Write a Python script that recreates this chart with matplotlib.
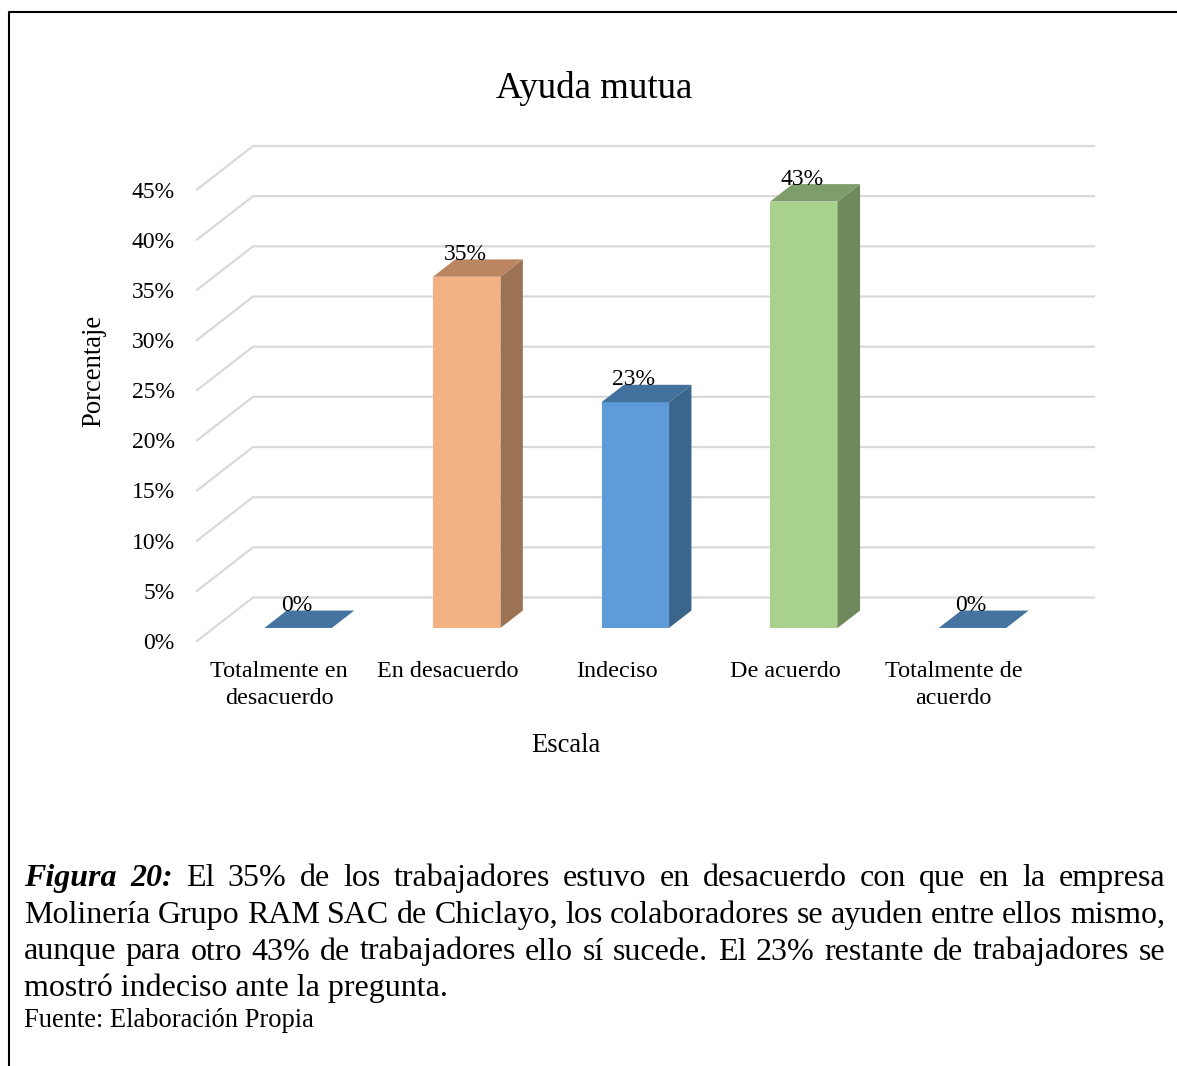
import matplotlib
matplotlib.use("Agg")
import matplotlib.pyplot as plt
from matplotlib.lines import Line2D
from matplotlib.patches import Polygon

plt.rcParams['font.family'] = ['Liberation Serif', 'DejaVu Serif']

categories = ["Totalmente en\ndesacuerdo", "En desacuerdo", "Indeciso", "De acuerdo", "Totalmente de\nacuerdo"]
values = [0, 35, 22.5, 42.5, 0]
value_labels = ["0%", "35%", "23%", "43%", "0%"]
tick_values = [0, 5, 10, 15, 20, 25, 30, 35, 40, 45]
tick_labels = ["0%", "5%", "10%", "15%", "20%", "25%", "30%", "35%", "40%", "45%"]
front_colors = ["#4674A0", "#F4B183", "#5E9BD8", "#A9D18E", "#4674A0"]
top_colors = ["#4674A0", "#BC8562", "#41719C", "#7F9D6B", "#4674A0"]
side_colors = ["#4674A0", "#9C7352", "#3A668C", "#6E8A5C", "#4674A0"]

title = "Ayuda mutua"
xlabel = "Escala"
ylabel = "Porcentaje"
caption_lines = [
    "El 35% de los trabajadores estuvo en desacuerdo con que en la empresa",
    "Molinería Grupo RAM SAC de Chiclayo, los colaboradores se ayuden entre ellos mismo,",
    "aunque para otro 43% de trabajadores ello sí sucede. El 23% restante de trabajadores se",
]
caption_lead = ["Figura", "20:"]
caption_last = "mostró indeciso ante la pregunta."
source = "Fuente: Elaboración Propia"

W, H = 1177, 1066
fig = plt.figure(figsize=(W / 100, H / 100), dpi=100, facecolor="white")


def fx(px):
    return px / W


def fy(py):
    return 1 - py / H


# frame
fig.add_artist(Line2D([fx(8.5), fx(8.5), 1], [0, fy(11.5), fy(11.5)], color="black", lw=1.5))

ax_left, ax_right, ax_bottom, ax_top = 197, 1040, 641, 189.5
ax = fig.add_axes([fx(ax_left), fy(ax_bottom), (ax_right - ax_left) / W, (ax_bottom - ax_top) / H])
ax.set_xlim(-0.5, 4.5)
ax.set_ylim(0, 45)
ax.patch.set_alpha(0)
for s in ax.spines.values():
    s.set_visible(False)

px_x = (ax_right - ax_left) / 5
px_y = (ax_bottom - ax_top) / 45
wall_dx = 56 / px_x
wall_dy = 43.5 / px_y
d_front, d_back = 0.3, 0.7
bar_w = 67.5 / px_x

# gridlines on floor-edge + back wall
x_end = 4.5 + wall_dx - 2 / px_x
for v in tick_values:
    ax.plot([-0.5, -0.5 + wall_dx, x_end], [v, v + wall_dy, v + wall_dy],
            color="#D9D9D9", lw=1.6, clip_on=False, zorder=1, solid_joinstyle="miter")

# 3D bars
for i, v in enumerate(values):
    x0 = i - bar_w / 2 + d_front * wall_dx
    y0 = d_front * wall_dy
    ddx = (d_back - d_front) * wall_dx
    ddy = (d_back - d_front) * wall_dy
    ax.bar(x0, v, bottom=y0, width=bar_w, align="edge", color=front_colors[i], lw=0, zorder=3, clip_on=False)
    ax.add_patch(Polygon([(x0 + bar_w, y0), (x0 + bar_w + ddx, y0 + ddy),
                          (x0 + bar_w + ddx, y0 + ddy + v), (x0 + bar_w, y0 + v)],
                         closed=True, fc=side_colors[i], ec="none", zorder=3, clip_on=False))
    ax.add_patch(Polygon([(x0, y0 + v), (x0 + ddx, y0 + ddy + v),
                          (x0 + bar_w + ddx, y0 + ddy + v), (x0 + bar_w, y0 + v)],
                         closed=True, fc=top_colors[i], ec="none", zorder=3, clip_on=False))
    ax.annotate(value_labels[i], xy=(x0 + bar_w / 2, y0 + v), xytext=(-1.0, 16), textcoords="offset points",
                ha="center", va="center", fontsize=17, color="black", zorder=4, annotation_clip=False)

ax.set_xticks([i - 2.0 / px_x for i in range(len(categories))])
ax.set_xticklabels(categories, fontsize=17.4, linespacing=1.38)
ax.set_yticks(tick_values)
ax.set_yticklabels(tick_labels, fontsize=17)
ax.tick_params(axis="both", length=0, colors="black")
ax.tick_params(axis="y", pad=16)
ax.tick_params(axis="x", pad=14.7)

fig.text(fx(594), fy(89), title, ha="center", va="center", fontsize=26.6)
fig.text(fx(565.5), fy(745), xlabel, ha="center", va="center", fontsize=19.2)
fig.text(fx(94), fy(371), ylabel, ha="center", va="center", rotation=90, fontsize=19.2)

# caption (justified)
cap_size = 23
left, right = 24, 1165
fig.canvas.draw()
rend = fig.canvas.get_renderer()


def width_of(s, **kw):
    t = fig.text(0, 0, s, fontsize=cap_size, **kw)
    w = t.get_window_extent(rend).width
    t.remove()
    return w


def justified(words, y, start=left):
    total = sum(width_of(w) for w in words)
    gap = (right - start - total) / (len(words) - 1)
    x = start
    for word in words:
        fig.text(fx(x), fy(y), word, fontsize=cap_size, va="baseline", ha="left")
        x += width_of(word) + gap


baselines = [886, 923, 959.5]
lead_style = dict(fontweight="bold", fontstyle="italic")
fig.text(fx(left), fy(baselines[0]), caption_lead[0], fontsize=cap_size, va="baseline", ha="left", **lead_style)
fig.text(fx(173 - width_of(caption_lead[1], **lead_style)), fy(baselines[0]), caption_lead[1],
         fontsize=cap_size, va="baseline", ha="left", **lead_style)
justified(caption_lines[0].split(), baselines[0], start=186)
for line, y in zip(caption_lines[1:], baselines[1:]):
    justified(line.split(), y)
fig.text(fx(left), fy(996), caption_last, fontsize=cap_size, va="baseline", ha="left")
fig.text(fx(left), fy(1027), source, fontsize=19.1, va="baseline", ha="left")

fig.savefig("out.png", dpi=100, facecolor="white")
